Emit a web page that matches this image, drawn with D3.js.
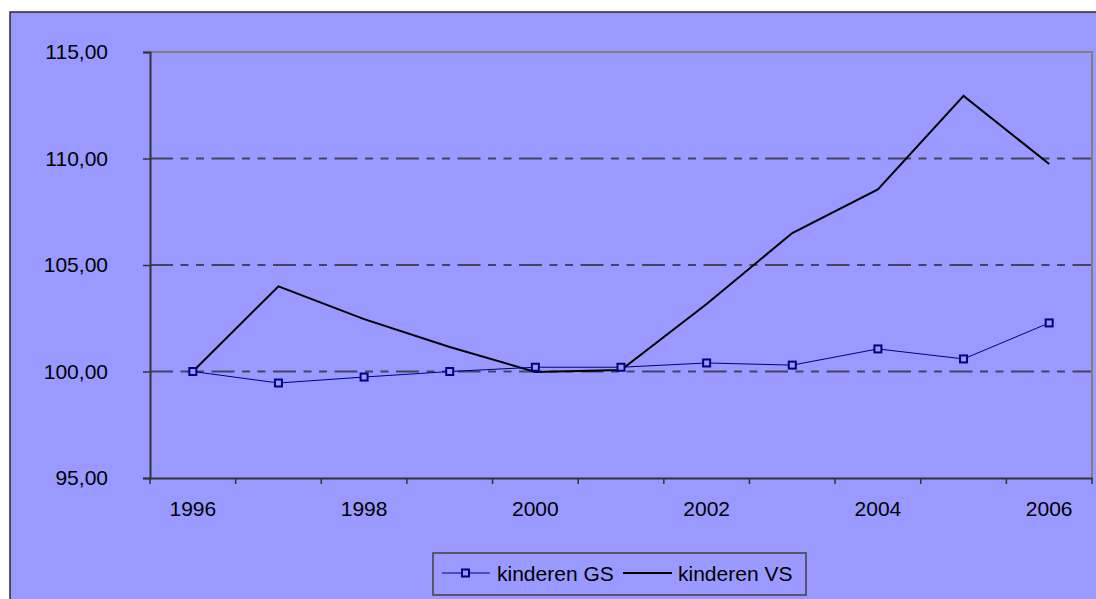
<!DOCTYPE html>
<html>
<head>
<meta charset="utf-8">
<script src="https://cdn.jsdelivr.net/npm/d3@7"></script>
<style>
  body { margin: 0; background: #fff; overflow: hidden; }
  text { font-family: "Liberation Sans", Arial, sans-serif; fill: #000; }
</style>
</head>
<body>
<script>
// data
const years = ['1996', '1997', '1998', '1999', '2000', '2001', '2002', '2003', '2004', '2005', '2006']
const kinderenGS = [100.0, 99.46, 99.74, 100.0, 100.2, 100.2, 100.4, 100.3, 101.06, 100.59, 102.28]
const kinderenVS = [100.0, 104.0, 102.46, 101.15, 99.98, 100.07, 103.17, 106.5, 108.55, 112.94, 109.74]
const yTicks = [95, 100, 105, 110, 115]
const gridValues = [100, 105, 110]

const width = 1096
const height = 599
const plot = { left: 150, top: 52, right: 1092, bottom: 478 }
const fontSize = 21

const svg = d3.select('body')
    .append('svg')
    .attr('width', width)
    .attr('height', height)

// chart area
svg.append('rect')
    .attr('x', 10)
    .attr('y', 12)
    .attr('width', 1200)
    .attr('height', 700)
    .attr('fill', '#9999ff')
    .attr('stroke', '#2a2a2a')
    .attr('stroke-width', 1.5)

const x = d3.scaleBand()
    .domain(years)
    .range([plot.left, plot.right])

const y = d3.scaleLinear()
    .domain([95, 115])
    .range([plot.bottom, plot.top])

// gridlines
svg.append('g')
    .selectAll('line')
    .data(gridValues)
    .enter()
    .append('line')
    .attr('x1', plot.left)
    .attr('x2', plot.right)
    .attr('y1', d => y(d))
    .attr('y2', d => y(d))
    .attr('stroke', '#44445e')
    .attr('stroke-width', 1.8)
    .attr('stroke-dasharray', '23,7.5,8,7.5,8,7.5')

// plot border top + right (gray)
svg.append('path')
    .attr('d', `M${plot.left},${plot.top}H${plot.right}V${plot.bottom}`)
    .attr('fill', 'none')
    .attr('stroke', '#808080')
    .attr('stroke-width', 2)

// y axis
const yAxis = svg.append('g')
    .attr('transform', `translate(${plot.left},0)`)
    .call(d3.axisLeft(y)
        .tickValues(yTicks)
        .tickFormat(d => d.toFixed(2).replace('.', ','))
        .tickSize(7)
        .tickPadding(35))
yAxis.selectAll('line').attr('stroke', '#333').attr('stroke-width', 1.5)
yAxis.select('.domain').attr('stroke', '#333').attr('stroke-width', 2)
yAxis.selectAll('text')
    .attr('font-size', fontSize)
    .attr('font-family', '"Liberation Sans", Arial, sans-serif')
    .attr('fill', '#000')

// x axis
const xAxis = svg.append('g')
    .attr('transform', `translate(0,${plot.bottom})`)
    .call(d3.axisBottom(x)
        .tickSize(0)
        .tickPadding(23)
        .tickFormat((d, i) => i % 2 === 0 ? d : ''))
xAxis.select('.domain').attr('stroke', '#333').attr('stroke-width', 2)
xAxis.selectAll('text')
    .attr('font-size', fontSize)
    .attr('font-family', '"Liberation Sans", Arial, sans-serif')
    .attr('fill', '#000')

// x tick marks between categories
const edges = years.map(d => x(d)).concat([plot.right])
svg.append('g')
    .selectAll('line')
    .data(edges)
    .enter()
    .append('line')
    .attr('x1', d => d)
    .attr('x2', d => d)
    .attr('y1', plot.bottom)
    .attr('y2', plot.bottom + 6)
    .attr('stroke', '#333')
    .attr('stroke-width', 1.5)

const cx = d => x(d) + x.bandwidth() / 2

// kinderen VS line
svg.append('path')
    .datum(kinderenVS)
    .attr('fill', 'none')
    .attr('stroke', '#000')
    .attr('stroke-width', 2)
    .attr('d', d3.line().x((d, i) => cx(years[i])).y(d => y(d)))

// kinderen GS line + markers
svg.append('path')
    .datum(kinderenGS)
    .attr('fill', 'none')
    .attr('stroke', '#000080')
    .attr('stroke-width', 1)
    .attr('d', d3.line().x((d, i) => cx(years[i])).y(d => y(d)))

svg.append('g')
    .selectAll('rect')
    .data(kinderenGS)
    .enter()
    .append('rect')
    .attr('x', (d, i) => cx(years[i]) - 3.5)
    .attr('y', d => y(d) - 3.5)
    .attr('width', 7)
    .attr('height', 7)
    .attr('fill', '#9999ff')
    .attr('stroke', '#000080')
    .attr('stroke-width', 2)

// legend
const legend = svg.append('g')
legend.append('rect')
    .attr('x', 433)
    .attr('y', 553)
    .attr('width', 373)
    .attr('height', 42)
    .attr('fill', '#9999ff')
    .attr('stroke', '#404040')
    .attr('stroke-width', 1.5)

legend.append('line')
    .attr('x1', 442).attr('x2', 490)
    .attr('y1', 573).attr('y2', 573)
    .attr('stroke', '#000080')
    .attr('stroke-width', 1)
legend.append('rect')
    .attr('x', 462).attr('y', 569.5)
    .attr('width', 7).attr('height', 7)
    .attr('fill', '#9999ff')
    .attr('stroke', '#000080')
    .attr('stroke-width', 2)
legend.append('text')
    .attr('x', 497).attr('y', 581)
    .attr('font-size', fontSize)
    .text('kinderen GS')

legend.append('line')
    .attr('x1', 623).attr('x2', 672)
    .attr('y1', 573).attr('y2', 573)
    .attr('stroke', '#000')
    .attr('stroke-width', 2)
legend.append('text')
    .attr('x', 678).attr('y', 581)
    .attr('font-size', fontSize)
    .text('kinderen VS')
</script>
</body>
</html>
